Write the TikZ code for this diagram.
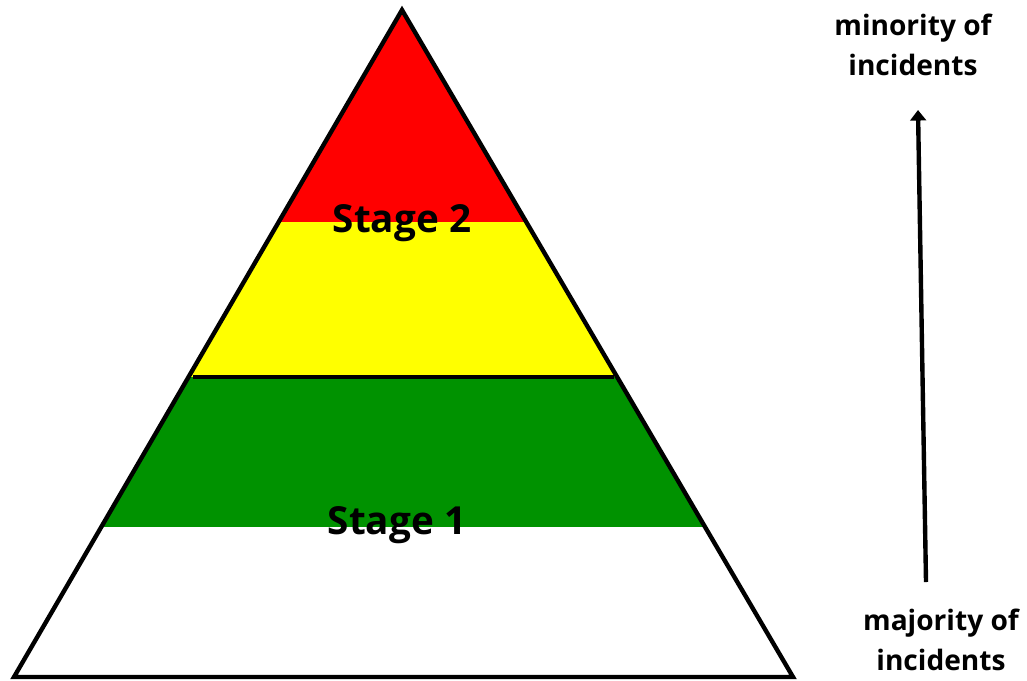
\documentclass[tikz,border=0pt]{standalone}
\usepackage{fontspec}
\setmainfont{Open Sans}
\usetikzlibrary{arrows.meta, positioning, calc}
\definecolor{topred}{RGB}{255,0,0}
\definecolor{midyellow}{RGB}{255,255,0}
\definecolor{lowgreen}{RGB}{0,146,0}

\begin{document}
\begin{tikzpicture}[
    x=0.02cm, y=-0.02cm,
    stagetext/.style={font=\fontsize{22}{26}\selectfont\bfseries, inner sep=0pt},
    sidetext/.style={font=\fontsize{16}{22.5}\selectfont\bfseries, align=center, inner sep=0pt},
    outline/.style={draw, line width=2.5pt, line join=miter},
    >={Triangle[length=6pt, width=9pt]}
]
    \useasboundingbox (0,0) rectangle (1027,680);
    \coordinate (apex) at (402,10);
    \coordinate (bl) at (14,677);
    \coordinate (br) at (793,677);
    % coloured bands inside the pyramid
    \begin{scope}
        \clip (apex) -- (bl) -- (br) -- cycle;
        \fill[topred] (0,0) rectangle (1027,222);
        \fill[midyellow] (0,222) rectangle (1027,377);
        \fill[lowgreen] (0,377) rectangle (1027,527);
    \end{scope}
    \node[stagetext] (s2) at (402,223) {Stage 2};
    \node[stagetext] (s1) at (397,525) {Stage 1};
    \coordinate (sepl) at (193,377);
    \coordinate (sepr) at (614,377);
    \draw[line width=2.5pt] (sepl) -- (sepr);
    \draw[outline] (apex) -- (bl) -- (br) -- cycle;
    % side arrow
    \node[sidetext] (minor) at (913,45) {minority of\\incidents};
    \node[sidetext] (major) at (941,640) {majority of\\incidents};
    \coordinate (arrbot) at (926,582);
    \coordinate (arrtop) at (918,110);
    \draw[->, line width=2.5pt] (arrbot) -- (arrtop);
\end{tikzpicture}
\end{document}
